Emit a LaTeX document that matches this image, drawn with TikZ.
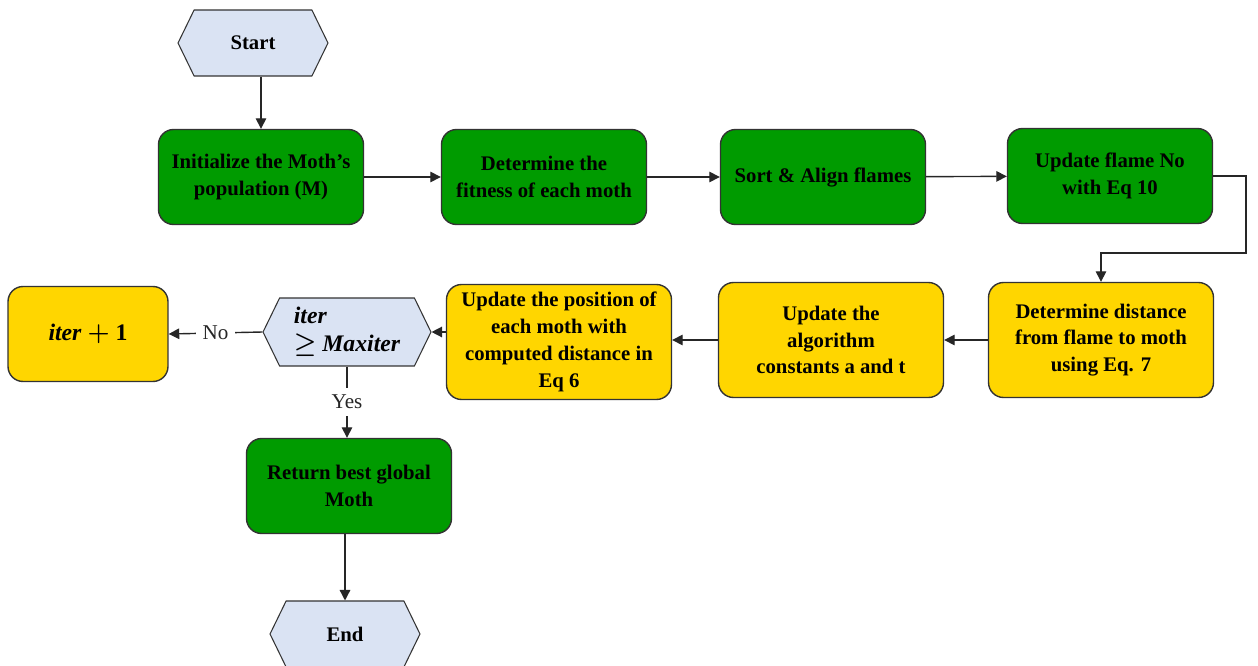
\documentclass[tikz,border=0pt]{standalone}
\usepackage{bm}
\usepackage{fontspec}
\setmainfont{Liberation Serif}
\usetikzlibrary{shapes.symbols, arrows.meta}

\definecolor{mothgreen}{RGB}{0,155,0}
\definecolor{mothyellow}{RGB}{255,214,0}
\definecolor{mothblue}{RGB}{218,227,243}

\tikzset{
  box/.style={draw=black!80, line width=0.8pt, rounded corners=0.3cm, align=center,
    font=\bfseries\fontsize{11.8}{15.3}\selectfont},
  greenbox/.style={box, fill=mothgreen, minimum width=4.1cm, minimum height=1.9cm},
  yellowbox/.style={box, fill=mothyellow, minimum width=4.5cm, minimum height=2.3cm},
  hexa/.style={draw=black!80, line width=0.6pt, fill=mothblue, shape=signal,
    signal to=east and west, signal pointer angle=128,
    minimum width=3cm, minimum height=1.32cm, font=\bfseries\fontsize{11.8}{15.3}\selectfont},
  mathtext/.style={font=\bfseries\fontsize{13.5}{16}\selectfont},
  arrow/.style={-{Triangle[length=6pt,width=6pt]}, line width=0.8pt, black!85},
  choice/.style={fill=white, inner sep=4pt, font=\fontsize{12}{14}\selectfont}
}

\begin{document}
\begin{tikzpicture}[x=0.02cm, y=-0.02cm]
    \useasboundingbox (0,0) rectangle (1258,666);

    % First row
    \node[hexa] (start) at (253,43) {Start};
    \node[greenbox] (init) at (261,177) {Initialize the Moth's\\population (M)};
    \node[greenbox] (fitness) at (544,177) {Determine the\\fitness of each moth};
    \node[greenbox] (sort) at (823,177) {Sort \& Align flames};
    \node[greenbox] (flame) at (1110,176) {Update flame No\\with Eq 10};

    % Second row
    \node[yellowbox] (dist) at (1101,340) {Determine distance\\from flame to moth\\using Eq. 7};
    \node[yellowbox] (const) at (831,340) {Update the\\algorithm\\constants a and t};
    \node[yellowbox] (pos) at (559,342) {Update the position of\\each moth with\\computed distance in\\Eq 6};
    \node[hexa, mathtext, align=left, minimum width=3.36cm, minimum height=1.36cm] (check) at (347,332)
        {\itshape iter\\$\bm{\geq}$ \itshape Maxiter};
    \node[box, mathtext, fill=mothyellow, minimum width=3.2cm, minimum height=1.9cm] (next) at (88,334)
        {\textit{iter} $\bm{+}$ 1};

    % Last part
    \node[greenbox] (best) at (349,486) {Return best global\\Moth};
    \node[hexa] (end) at (345,634) {End};

    % Connectors
    \draw[arrow] (start.south -| init.north) -- (init.north);
    \draw[arrow] (init) -- (fitness);
    \draw[arrow] (fitness) -- (sort);
    \draw[arrow] (sort) -- (flame);
    \draw[arrow] (flame.east) -- ++(33,0) -- ++(0,77) -| (dist.north);
    \draw[arrow] (dist) -- (const);
    \draw[arrow] (const) -- (pos.east |- const);
    \draw[arrow] (pos.west |- check) -- (check.east);
    \draw[arrow] (check.west) -- node[choice] {No} (next.east);
    \draw[arrow] (check.south) -- node[choice] {Yes} (best.north -| check.south);
    \draw[arrow] (best.south -| end.north) -- (end.north);

\end{tikzpicture}
\end{document}
